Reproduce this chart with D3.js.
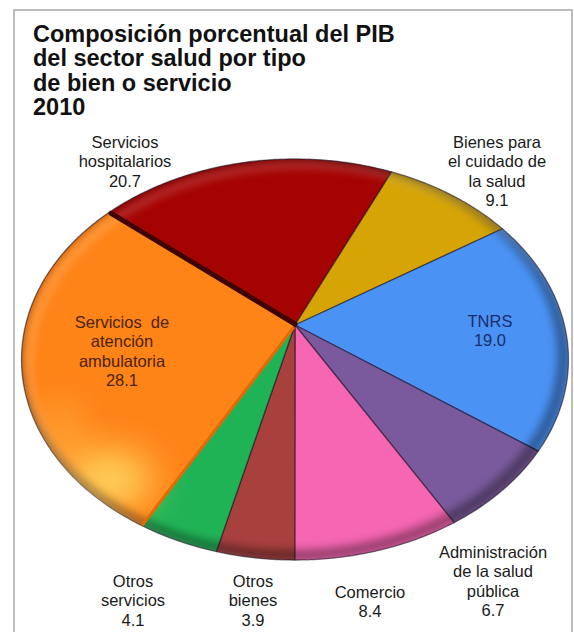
<!DOCTYPE html>
<html>
<head>
<meta charset="utf-8">
<script src="https://cdn.jsdelivr.net/npm/d3@7"></script>
<style>
  html, body { margin: 0; padding: 0; background: #fff; }
  svg { display: block; }
  text { font-family: "Liberation Sans", Arial, sans-serif; }
</style>
</head>
<body>
<svg id="chart" width="574" height="632"></svg>
<script>
// Composition of the health-sector GDP by type of good or service, 2010 (%)
const titleLines = ["Composición porcentual del PIB", "del sector salud por tipo", "de bien o servicio", "2010"];
const categories = [
  "Servicios hospitalarios",
  "Bienes para el cuidado de la salud",
  "TNRS",
  "Administración de la salud pública",
  "Comercio",
  "Otros bienes",
  "Otros servicios",
  "Servicios de atención ambulatoria"
];
const values = [20.7, 9.1, 19.0, 6.7, 8.4, 3.9, 4.1, 28.1];
const labelText = [
  ["Servicios", "hospitalarios"],
  ["Bienes para", "el cuidado de", "la salud"],
  ["TNRS"],
  ["Administración", "de la salud", "pública"],
  ["Comercio"],
  ["Otros", "bienes"],
  ["Otros", "servicios"],
  ["Servicios  de", "atención", "ambulatoria"]
];

// Styling and layout
const sliceColors = ["#a50202", "#d6a405", "#4a92f4", "#7a5a9c", "#f666b2", "#a8403e", "#20b356", "#ff8418"];
const labelColors = ["#1a1a1a", "#1a1a1a", "#1b2d6b", "#1a1a1a", "#1a1a1a", "#1a1a1a", "#1a1a1a", "#4a2306"];
const labelAnchor = [[125, 142], [497, 142], [490, 321], [493, 552], [370, 592], [253, 581], [133, 581], [122, 322]];
const lineGap = 19.5;

const W = 574, H = 632;
const svg = d3.select("#chart");

// Frame
svg.append("path")
  .attr("d", `M14,${H} L14,10 L572,10 L572,${H}`)
  .attr("fill", "none").attr("stroke", "#a8a8a8").attr("stroke-width", 1.5);

// Title
const title = svg.append("text").attr("x", 33).attr("font-weight", "bold")
  .attr("font-size", 23.5).attr("fill", "#111");
titleLines.forEach((t, i) => {
  title.append("tspan").attr("x", 33).attr("y", 42 + i * 24.3).text(t);
});

// Tilted pie: slices laid out by d3.pie on a circle, then projected with perspective
const cx = 295, cy = 325, a = 269.4, b = 194.6, p = 0.172;
const rScale = d3.scaleLinear().domain([0, 1]).range([0, 1]);
function project(theta, r) {
  const rr = rScale(r);
  const x = rr * Math.sin(theta), y = -rr * Math.cos(theta);
  const d = 1 - p * y;
  return [cx + a * x / d, cy + b * y / d];
}
function slicePath(s) {
  const n = Math.max(4, Math.ceil((s.endAngle - s.startAngle) / 0.01));
  const pts = [[cx, cy]];
  for (let i = 0; i <= n; i++) {
    pts.push(project(s.startAngle + (s.endAngle - s.startAngle) * i / n, 1));
  }
  return d3.line()(pts) + "Z";
}

const start = -50 * Math.PI / 180;
const pie = d3.pie().sort(null).value(d => d).startAngle(start).endAngle(start + 2 * Math.PI);
const arcs = pie(values);

const defs = svg.append("defs");
const outline = d3.range(0, 361).map(k => project(k * Math.PI / 180, 1));
defs.append("clipPath").attr("id", "pieClip").append("path").attr("d", d3.line()(outline) + "Z");
defs.append("filter").attr("id", "soft").attr("x", "-20%").attr("y", "-20%").attr("width", "140%").attr("height", "140%")
  .append("feGaussianBlur").attr("stdDeviation", 4);
defs.append("filter").attr("id", "soft2").attr("x", "-50%").attr("y", "-50%").attr("width", "200%").attr("height", "200%")
  .append("feGaussianBlur").attr("stdDeviation", 18);

const pieG = svg.append("g");
pieG.selectAll("path.slice")
  .data(arcs)
  .join("path")
  .attr("class", "slice")
  .attr("d", slicePath)
  .attr("fill", (d, i) => sliceColors[i])
  .attr("stroke", "rgba(20,10,30,0.55)")
  .attr("stroke-width", 1.3)
  .attr("stroke-linejoin", "round");

// Lighting: highlight towards the lower left, shaded rim on the right and bottom
const light = pieG.append("g").attr("clip-path", "url(#pieClip)");
light.append("ellipse")
  .attr("cx", 108).attr("cy", 480).attr("rx", 45).attr("ry", 30)
  .attr("fill", "#ffe46e").attr("opacity", 0.8).attr("filter", "url(#soft2)");
light.append("ellipse")
  .attr("cx", 60).attr("cy", 440).attr("rx", 25).attr("ry", 40)
  .attr("fill", "#ffc050").attr("opacity", 0.45).attr("filter", "url(#soft2)");
light.append("path")
  .attr("d", d3.line()(outline) + "Z")
  .attr("transform", "translate(-5,-4)")
  .attr("fill", "none").attr("stroke", "#000").attr("stroke-opacity", 0.38)
  .attr("stroke-width", 12).attr("filter", "url(#soft)");
light.append("path")
  .attr("d", d3.line()(outline) + "Z")
  .attr("transform", "translate(7,6)")
  .attr("fill", "none").attr("stroke", "#fff").attr("stroke-opacity", 0.22)
  .attr("stroke-width", 6).attr("filter", "url(#soft)");

// Side walls visible along the edges of the hospital and outpatient slices
const redEdge = project(arcs[0].startAngle, 1);
pieG.append("line")
  .attr("x1", cx).attr("y1", cy - 1).attr("x2", redEdge[0] + 2).attr("y2", redEdge[1] + 1)
  .attr("stroke", "#3e0000").attr("stroke-width", 5).attr("stroke-linecap", "round");
const orangeEdge = project(arcs[7].startAngle, 1);
pieG.append("line")
  .attr("x1", cx - 1).attr("y1", cy + 2).attr("x2", orangeEdge[0]).attr("y2", orangeEdge[1])
  .attr("stroke", "#e46a06").attr("stroke-width", 3);

// Labels: name lines plus the value
const fmt = d3.format(".1f");
const labels = svg.append("g").attr("font-size", 16.5).attr("text-anchor", "middle");
arcs.forEach((s, i) => {
  const lines = labelText[i].concat([fmt(s.data)]);
  const t = labels.append("text").attr("fill", labelColors[i]);
  lines.forEach((ln, j) => {
    t.append("tspan")
      .attr("x", labelAnchor[i][0])
      .attr("y", labelAnchor[i][1] + j * lineGap)
      .attr("dy", "0.35em")
      .attr("xml:space", "preserve")
      .text(ln);
  });
});
</script>
</body>
</html>
